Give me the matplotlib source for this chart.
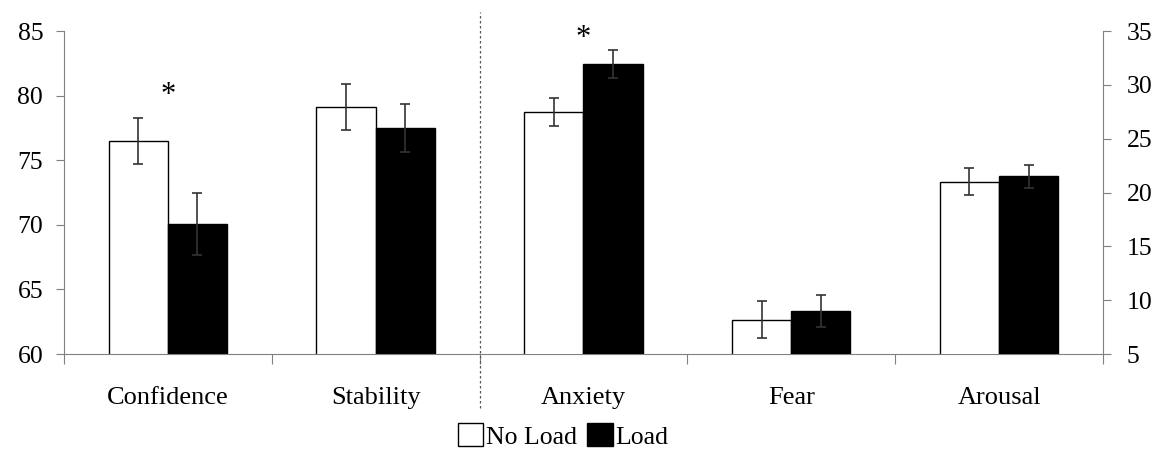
import numpy as np
import matplotlib.pyplot as plt
from matplotlib.patches import Patch

plt.rcParams['font.family'] = ['Liberation Serif', 'DejaVu Serif']

# left axis (60-85): Confidence, Stability
left_cats = ['Confidence', 'Stability']
left_noload = [76.5, 79.1]
left_load = [70.1, 77.5]
left_noload_err = [1.8, 1.8]
left_load_err = [2.4, 1.85]

# right axis (5-35): Anxiety, Fear, Arousal
right_cats = ['Anxiety', 'Fear', 'Arousal']
right_noload = [27.5, 8.2, 21.0]
right_load = [31.9, 9.0, 21.5]
right_noload_err = [1.3, 1.7, 1.25]
right_load_err = [1.3, 1.5, 1.1]

w = 0.285
grey = '#808080'
errkw = dict(ecolor='#333333', elinewidth=1.2, capsize=3.5, capthick=1.2)

fig = plt.figure(figsize=(11.61, 4.5), dpi=100)
ax = fig.add_axes([0.0551, 0.2133, 0.8949, 0.7178])
ax2 = ax.twinx()

xl = np.arange(len(left_cats)) + 0.5
xr = np.arange(len(right_cats)) + 2.5

ax.bar(xl - w / 2, left_noload, w, color='white', edgecolor='black',
       linewidth=1.0, yerr=left_noload_err, error_kw=errkw, zorder=2)
ax.bar(xl + w / 2, left_load, w, color='black', edgecolor='black',
       linewidth=1.0, yerr=left_load_err, error_kw=errkw, zorder=2)
ax2.bar(xr - w / 2, right_noload, w, color='white', edgecolor='black',
        linewidth=1.0, yerr=right_noload_err, error_kw=errkw, zorder=2)
ax2.bar(xr + w / 2, right_load, w, color='black', edgecolor='black',
        linewidth=1.0, yerr=right_load_err, error_kw=errkw, zorder=2)

ax.set_xlim(0, 5)
ax.set_ylim(60, 85)
ax2.set_ylim(5, 35)
ax.set_yticks(np.arange(60, 86, 5))
ax2.set_yticks(np.arange(5, 36, 5))

ax.set_xticks(np.arange(0, 6))
ax.set_xticklabels([])
ax.set_xticks(np.arange(5) + 0.5, left_cats + right_cats, minor=True)
ax.tick_params(axis='x', which='minor', length=0, pad=24, labelsize=19)
ax.tick_params(axis='x', which='major', length=7, direction='out', color=grey)
ax.tick_params(axis='y', length=6, color=grey, labelsize=18.5, pad=9)
ax2.tick_params(axis='y', length=6, color=grey, labelsize=18.5, pad=11)

for a in (ax, ax2):
    a.spines['top'].set_visible(False)
    for s in ('left', 'right', 'bottom'):
        a.spines[s].set_color(grey)
ax.spines['right'].set_visible(False)
ax2.spines['left'].set_visible(False)
ax2.spines['bottom'].set_visible(False)

# significance markers
ax.text(xl[0], 80.0, '*', ha='center', va='center', fontsize=22)
ax2.text(xr[0], 34.3, '*', ha='center', va='center', fontsize=22)

# dashed divider
ax.plot([2, 2], [-0.167, 1.06], transform=ax.get_xaxis_transform(),
        ls=(0, (2, 2)), color='#555555', lw=0.9, clip_on=False)

handles = [Patch(facecolor='white', edgecolor='black', label='No Load'),
           Patch(facecolor='black', edgecolor='black', label='Load')]
fig.legend(handles=handles, loc='center', bbox_to_anchor=(0.485, 0.031),
           ncol=2, frameon=False, fontsize=18.5, handlelength=1.0,
           handleheight=1.0, handletextpad=0.1, columnspacing=0.4)

fig.savefig('out.png', dpi=100)
